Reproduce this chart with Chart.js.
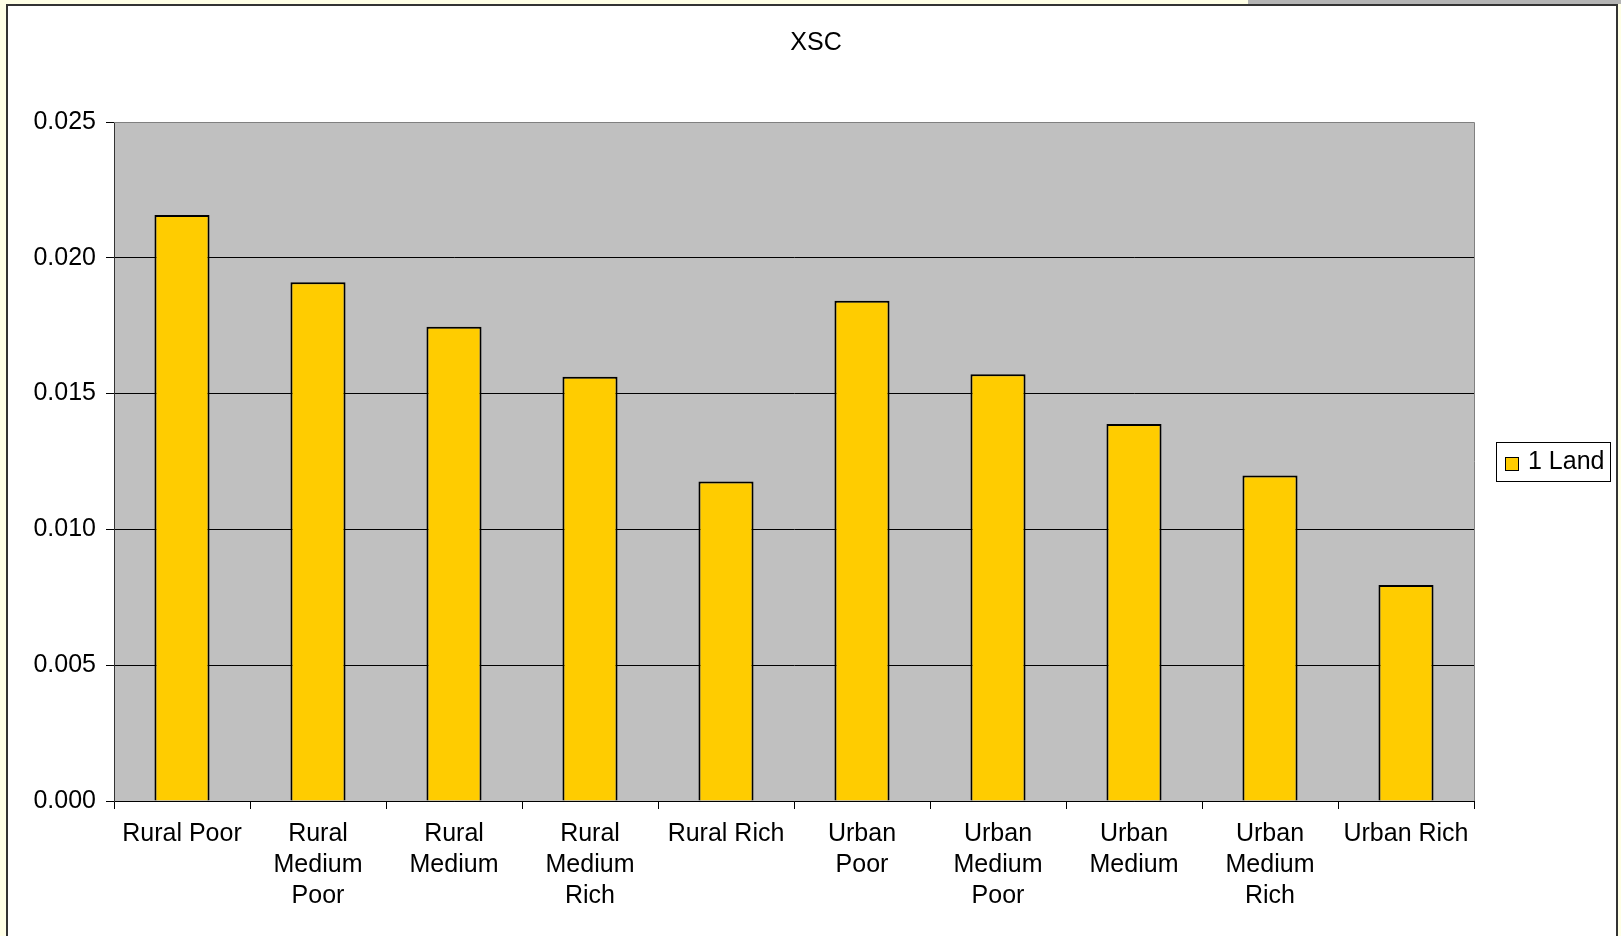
<!DOCTYPE html>
<html>
<head>
<meta charset="utf-8">
<title>XSC</title>
<script src="https://cdn.jsdelivr.net/npm/chart.js@4.4.1/dist/chart.umd.min.js"></script>
<style>
  html, body { margin: 0; padding: 0; background: #ffffe6; overflow: hidden; }
  canvas { display: block; }
</style>
</head>
<body>
<canvas id="xsc-chart" width="1621" height="936"></canvas>
<script>
var categories = [
    'Rural Poor',
    ['Rural', 'Medium', 'Poor'],
    ['Rural', 'Medium'],
    ['Rural', 'Medium', 'Rich'],
    'Rural Rich',
    ['Urban', 'Poor'],
    ['Urban', 'Medium', 'Poor'],
    ['Urban', 'Medium'],
    ['Urban', 'Medium', 'Rich'],
    'Urban Rich'
];
var landValues = [0.02158, 0.01910, 0.01746, 0.01562, 0.01176, 0.01842, 0.01571, 0.01388, 0.01198, 0.00795];
var seriesName = '1 Land';
var chartTitle = 'XSC';

Chart.defaults.font.family = "'Liberation Sans', Arial, sans-serif";
Chart.defaults.color = '#000';

// frame, plot background, title and legend box, drawn like the old spreadsheet chart
var excelFrame = {
    id: 'excelFrame',
    beforeDraw: function (chart) {
        var ctx = chart.ctx, a = chart.chartArea;
        ctx.save();
        ctx.fillStyle = '#ffffe6';
        ctx.fillRect(0, 0, chart.width, chart.height);
        ctx.fillStyle = '#b4b4b4';
        ctx.fillRect(1248, 0, chart.width - 1248, 4);
        ctx.fillStyle = '#fff';
        ctx.fillRect(7, 5, 1610, chart.height);
        ctx.strokeStyle = '#333';
        ctx.lineWidth = 2;
        ctx.beginPath();
        ctx.moveTo(7, chart.height + 5);
        ctx.lineTo(7, 5);
        ctx.lineTo(1617, 5);
        ctx.lineTo(1617, chart.height + 5);
        ctx.stroke();
        ctx.fillStyle = '#c0c0c0';
        ctx.fillRect(a.left, a.top, a.right - a.left, a.bottom - a.top);
        ctx.fillStyle = '#000';
        ctx.font = "25px 'Liberation Sans', Arial, sans-serif";
        ctx.textAlign = 'center';
        ctx.textBaseline = 'middle';
        ctx.fillText(chartTitle, 816, 43);
        ctx.restore();
    },
    afterDraw: function (chart) {
        var ctx = chart.ctx, a = chart.chartArea;
        var ds = chart.data.datasets[0];
        ctx.save();
        ctx.strokeStyle = '#808080';
        ctx.lineWidth = 1;
        ctx.beginPath();
        ctx.moveTo(a.left, a.top + 0.5);
        ctx.lineTo(a.right + 0.5, a.top + 0.5);
        ctx.lineTo(a.right + 0.5, a.bottom);
        ctx.stroke();
        // legend
        ctx.fillStyle = '#fff';
        ctx.fillRect(1496, 442, 114, 39);
        ctx.strokeStyle = '#000';
        ctx.strokeRect(1496.5, 442.5, 114, 39);
        ctx.fillStyle = ds.backgroundColor;
        ctx.fillRect(1505, 457, 14, 14);
        ctx.strokeRect(1505.5, 457.5, 13, 13);
        ctx.fillStyle = '#000';
        ctx.font = "25px 'Liberation Sans', Arial, sans-serif";
        ctx.textAlign = 'left';
        ctx.textBaseline = 'middle';
        ctx.fillText(ds.label, 1528, 462);
        ctx.restore();
    }
};

var xscChart = new Chart(document.getElementById('xsc-chart'), {
    type: 'bar',
    data: {
        labels: categories,
        datasets: [
            {
                label: seriesName,
                data: landValues,
                backgroundColor: '#ffcc00',
                borderColor: '#000',
                borderWidth: 2,
                borderSkipped: 'bottom',
                barPercentage: 0.405,
                categoryPercentage: 1
            }
        ]
    },
    options: {
        responsive: false,
        animation: false,
        layout: { padding: { top: 122, right: 147, bottom: 0, left: 0 } },
        plugins: {
            legend: { display: false },
            title: { display: false },
            tooltip: { enabled: false }
        },
        scales: {
            x: {
                offset: true,
                afterFit: function (scale) { scale.height = 135; },
                grid: {
                    offset: true,
                    drawOnChartArea: false,
                    color: '#000',
                    tickLength: 8
                },
                border: { color: '#000', width: 1 },
                ticks: {
                    autoSkip: false,
                    maxRotation: 0,
                    padding: 10,
                    font: { size: 25, lineHeight: 1.24 }
                }
            },
            y: {
                min: 0,
                max: 0.025,
                afterFit: function (scale) { scale.width = 114; },
                grid: {
                    color: function (c) { return c.tick && c.tick.value >= 0.025 ? '#808080' : '#000'; },
                    tickColor: '#000',
                    tickLength: 8
                },
                border: { color: '#333', width: 1 },
                ticks: {
                    stepSize: 0.005,
                    padding: 10,
                    font: { size: 25 },
                    callback: function (v) { return v.toFixed(3); }
                }
            }
        }
    },
    plugins: [excelFrame]
});
</script>
</body>
</html>
